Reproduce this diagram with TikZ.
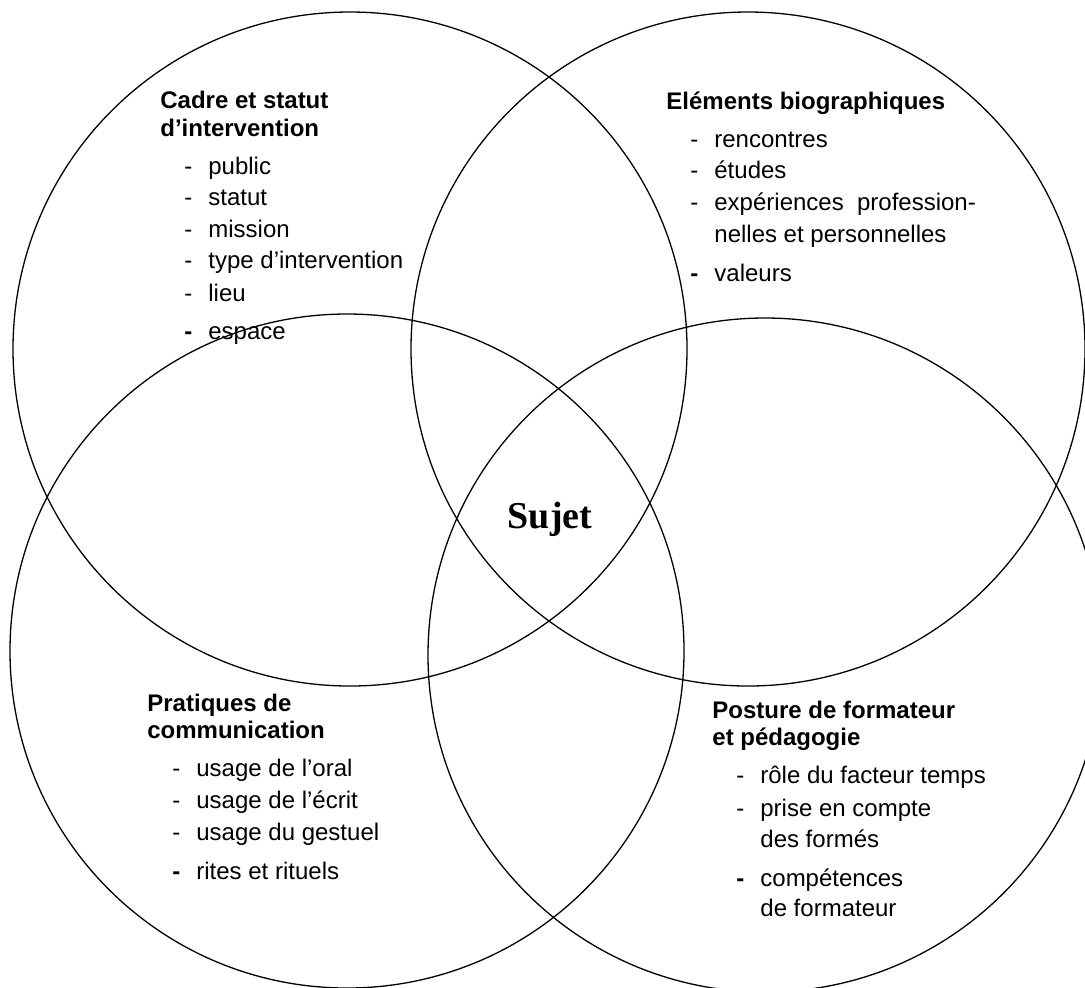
\documentclass[tikz,border=0pt]{standalone}
\usepackage{fontspec}
\setmainfont{Liberation Sans}
\newfontfamily\sujetfont{Liberation Serif}
\newcommand{\tiret}{\llap{-\hspace{8pt}}}
\newcommand{\tiretgras}{\llap{\textbf{-}\hspace{8pt}}}
\begin{document}
\begin{tikzpicture}[x=0.5pt,y=-0.5pt,
    ring/.style={draw,circle,line width=0.65pt,minimum size=337pt,inner sep=0pt},
    head/.style={anchor=base west,inner sep=0pt,font=\fontsize{12}{14}\selectfont\bfseries},
    item/.style={anchor=base west,inner sep=0pt,font=\fontsize{12}{14}\selectfont}]

      \useasboundingbox (0,0) rectangle (1085,987);
      \clip (0,0) rectangle (1085,987);

      \node[ring] (cadre) at (350,349) {};
      \node[ring] (bio) at (748,349) {};
      \node[ring] (comm) at (347,651) {};
      \node[ring] (post) at (765,655) {};

      \node[font=\sujetfont\fontsize{19}{22}\selectfont\bfseries,anchor=base,inner sep=0pt] (sujet) at (550,528) {Sujet};

      % cadre et statut
      \node[head] (cadreh1) at (160,108) {Cadre et statut};
      \node[head] (cadreh2) at (160,136) {d’intervention};
      \node[item] (cadre1) at (208,174) {\tiret public};
      \node[item] (cadre2) at (208,205) {\tiret statut};
      \node[item] (cadre3) at (208,237) {\tiret mission};
      \node[item] (cadre4) at (208,268) {\tiret type d’intervention};
      \node[item] (cadre5) at (208,301) {\tiret lieu};
      \node[item] (cadre6) at (208,339) {\tiretgras espace};

      % elements biographiques
      \node[head] (bioh) at (666,109) {Eléments biographiques};
      \node[item] (bio1) at (714,147) {\tiret rencontres};
      \node[item] (bio2) at (714,178) {\tiret études};
      \node[item] (bio3) at (714,210) {\tiret expériences\ \ profession-};
      \node[item] (bio3b) at (714,242) {nelles et personnelles};
      \node[item] (bio4) at (714,281) {\tiretgras valeurs};

      % pratiques de communication
      \node[head] (commh1) at (147,711) {Pratiques de};
      \node[head] (commh2) at (147,738) {communication};
      \node[item] (comm1) at (196,776) {\tiret usage de l’oral};
      \node[item] (comm2) at (196,808) {\tiret usage de l’écrit};
      \node[item] (comm3) at (196,840) {\tiret usage du gestuel};
      \node[item] (comm4) at (196,879) {\tiretgras rites et rituels};

      % posture de formateur
      \node[head] (posth1) at (712,718) {Posture de formateur};
      \node[head] (posth2) at (712,745) {et pédagogie};
      \node[item] (post1) at (760,783) {\tiret rôle du facteur temps};
      \node[item] (post2) at (760,816) {\tiret prise en compte};
      \node[item] (post2b) at (760,847) {des formés};
      \node[item] (post3) at (760,886) {\tiretgras compétences};
      \node[item] (post3b) at (760,916) {de formateur};

    \end{tikzpicture}
\end{document}
